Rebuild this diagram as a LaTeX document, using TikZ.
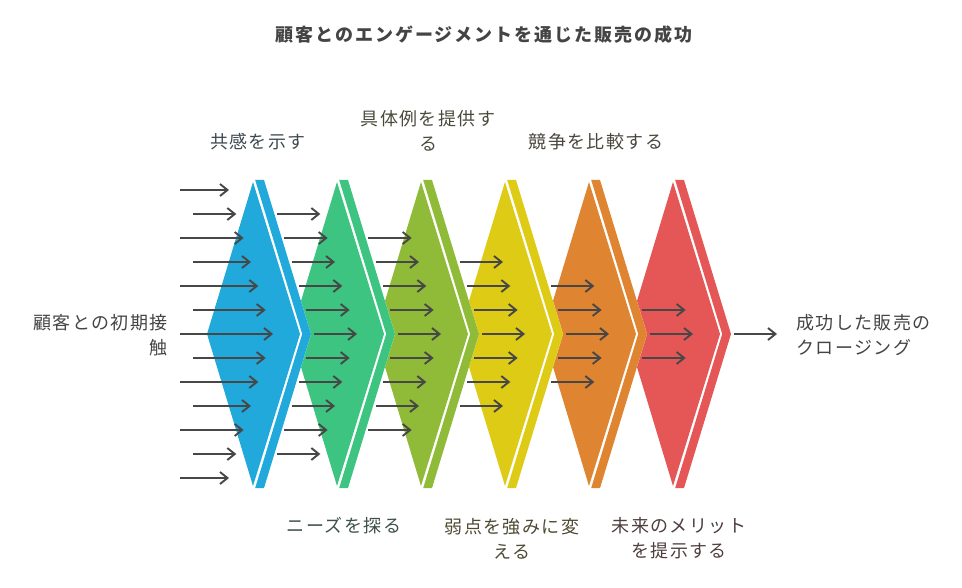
\documentclass[tikz,border=0pt]{standalone}
\usepackage{fontspec}
\setmainfont{Noto Sans CJK JP}
\newfontfamily\jpfont[LetterSpace=8]{Noto Sans CJK JP}
\usetikzlibrary{arrows.meta}
\definecolor{cblue}{HTML}{20A9DA}
\definecolor{cgreen}{HTML}{3CC480}
\definecolor{colive}{HTML}{8FBB39}
\definecolor{cyellow}{HTML}{DECB16}
\definecolor{corange}{HTML}{DF8531}
\definecolor{cred}{HTML}{E45756}
\definecolor{arrowgray}{HTML}{474747}
\definecolor{txt}{HTML}{444444}
\definecolor{tA}{HTML}{3E4A50}
\definecolor{tB}{HTML}{4A4A3C}
\definecolor{tC}{HTML}{4A463E}
\definecolor{tD}{HTML}{3E5048}
\definecolor{tE}{HTML}{4D4A32}
\definecolor{tF}{HTML}{4E3E3E}
\begin{document}
\begin{tikzpicture}[x=1pt,y=-1pt,
  arr/.style={draw=arrowgray, line width=1.9pt, -{Straight Barb[length=7.5pt,width=12pt]}},
  lbl/.style={font=\jpfont\fontsize{18}{25}\selectfont, align=center, inner sep=0pt, text=txt},
  ttl/.style={font=\bfseries\addfontfeatures{LetterSpace=11}\fontsize{18}{20}\selectfont, inner sep=0pt, text=txt}]
\useasboundingbox (0,0) rectangle (962,588);
% chevrons (drawn from last to first so earlier ones lie on top)
\foreach \c/\col/\j in {673/cred/6,589/corange/5,505/cyellow/4,421/colive/3,337/cgreen/2,253/cblue/1}{
  \fill[white] (\c,181) -- (\c+11,180) -- (\c+58,334) -- (\c+11,488) -- (\c,487) -- (\c-46,334) -- cycle;
  \fill[\col] (\c,182) -- (\c+47,334) -- (\c,486) -- (\c-46,334) -- cycle;
  \fill[\col] (\c+2.2,180) -- (\c+11,180) -- (\c+58,334) -- (\c+11,488) -- (\c+2.2,488) -- (\c+49.2,334) -- cycle;
  \coordinate (chev\j) at (\c,334);
}
% input arrows
\foreach \i in {-6,...,6}{
  \pgfmathsetmacro\ay{334+24*\i}
  \pgfmathsetmacro\sx{ifthenelse(mod(abs(\i),2)==1,193,180)}
  \pgfmathsetmacro\ex{273-7.33*abs(\i)}
  \draw[arr] (\sx,\ay) -- (\ex,\ay);
}
% intermediate arrows
\foreach \k/\c in {1/253,2/337,3/421,4/505,5/589}{
  \pgfmathtruncatemacro\n{6-\k}
  \foreach \i in {-\n,...,\n}{
    \pgfmathsetmacro\ay{334+24*\i}
    \pgfmathsetmacro\sx{\c+60.5-abs(24*\i)*0.3052}
    \pgfmathsetmacro\ex{273+84*\k-7.33*abs(\i)}
    \draw[arr] (\sx,\ay) -- (\ex,\ay);
  }
}
% output arrow
\coordinate (redout) at (734,334);
\coordinate (endpt) at (777,334);
\draw[arr] (redout) -- (endpt);
% title
\node[ttl] (title) at (484,35) {顧客とのエンゲージメントを通じた販売の成功};
% labels
\node[lbl, text=tA] (l1) at (258,142) {共感を示す};
\node[lbl, text=tB] (l2) at (428,130.5) {具体例を提供す\\る};
\node[lbl, text=tC] (l3) at (596,142) {競争を比較する};
\node[lbl, text=tD] (l4) at (344,526) {ニーズを探る};
\node[lbl, text=tE] (l5) at (512,538.5) {弱点を強みに変\\える};
\node[lbl, text=tF] (l6) at (679,538.5) {未来のメリット\\を提示する};
\node[lbl, align=right, anchor=east] (l0) at (168,335.5) {顧客との初期接\\触};
\node[lbl, align=left, anchor=west] (l7) at (796,335.5) {成功した販売の\\クロージング};
\end{tikzpicture}
\end{document}
